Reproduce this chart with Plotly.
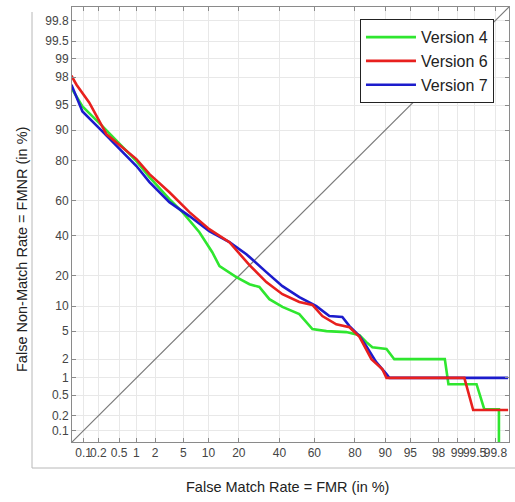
from statistics import NormalDist
import plotly.graph_objects as go

nd = NormalDist()
def probit(p):
    return [nd.inv_cdf(v / 100.0) for v in p]

tick_vals = [0.1, 0.2, 0.5, 1, 2, 5, 10, 20, 40, 60, 80, 90, 95, 98, 99, 99.5, 99.8]
tick_text = ["0.1", "0.2", "0.5", "1", "2", "5", "10", "20", "40", "60", "80", "90", "95", "98", "99", "99.5", "99.8"]

# Version 4 (green): FMR %, FNMR %
v4_fmr = [0.054, 0.094, 0.24, 1.0, 1.63, 3.23, 4.86, 7.88, 11.0, 13.1, 19.0, 24.6, 29.3, 34.5, 41.7,
          51.4, 58.9, 66.6, 76.3, 81.8, 84.3, 86.3, 90.3, 92.1, 98.4, 98.6, 99.54, 99.67, 99.83, 99.83]
v4_fnmr = [97.1, 94.8, 91.0, 79.7, 72.5, 60.9, 53.5, 41.9, 31.0, 24.2, 19.5, 16.8, 15.8, 11.9, 9.8,
           8.1, 5.3, 5.0, 4.85, 4.4, 3.55, 3.0, 2.83, 2.0, 2.0, 0.78, 0.78, 0.27, 0.27, 0.01]

# Version 6 (red)
v6_fmr = [0.054, 0.07, 0.13, 0.29, 1.0, 1.63, 3.23, 5.96, 10.2, 16.4, 24.6, 32.9, 41.7, 51.4, 58.9,
          64.4, 71.6, 77.7, 81.8, 84.3, 86.0, 89.2, 90.3, 99.24, 99.47, 99.89]
v6_fnmr = [98.1, 97.4, 95.4, 88.9, 80.5, 73.9, 64.7, 53.5, 43.6, 36.3, 24.7, 17.6, 13.4, 11.1, 10.3,
           7.7, 6.1, 5.6, 4.2, 2.8, 2.0, 1.4, 1.0, 1.0, 0.26, 0.26]

# Version 7 (blue)
v7_fmr = [0.054, 0.094, 0.24, 1.0, 1.63, 3.23, 5.96, 10.2, 16.4, 23.2, 32.9, 41.7, 51.4, 61.1, 68.1,
          74.5, 77.7, 81.8, 84.3, 87.5, 90.3, 91.0, 99.89]
v7_fnmr = [97.4, 94.0, 89.7, 77.6, 70.0, 59.2, 51.2, 42.5, 36.3, 30.0, 21.6, 16.1, 12.5, 10.0, 7.7,
           7.5, 5.8, 4.3, 3.1, 1.8, 1.16, 1.0, 1.0]

RANGE = [-3.26, 3.075]

fig = go.Figure()
# diagonal (FMR = FNMR)
fig.add_trace(go.Scatter(x=RANGE, y=RANGE, mode="lines", line=dict(color="#7a7a7a", width=1.2),
                         showlegend=False, hoverinfo="skip"))
fig.add_trace(go.Scatter(x=probit(v4_fmr), y=probit(v4_fnmr), mode="lines", name="Version 4",
                         line=dict(color="#2fe62f", width=2.6), legendrank=1))
fig.add_trace(go.Scatter(x=probit(v7_fmr), y=probit(v7_fnmr), mode="lines", name="Version 7",
                         line=dict(color="#1c1ccc", width=2.6), legendrank=3))
fig.add_trace(go.Scatter(x=probit(v6_fmr), y=probit(v6_fnmr), mode="lines", name="Version 6",
                         line=dict(color="#e8201e", width=2.6), legendrank=2))

axis_common = dict(
    tickmode="array", tickvals=probit(tick_vals), ticktext=tick_text,
    range=RANGE, showgrid=True, gridcolor="#e8e8e8", gridwidth=1,
    zeroline=False, showline=True, linecolor="#8a8a8a", linewidth=1,
    mirror="ticks", ticks="inside", ticklen=4, tickcolor="#8a8a8a",
    tickangle=0,
    tickfont=dict(family="Liberation Sans, Arial, sans-serif", size=12, color="#444444"),
)
fig.update_xaxes(**axis_common)
fig.update_yaxes(**axis_common)

fig.update_layout(
    width=515, height=502,
    margin=dict(l=72, r=6, t=7, b=60),
    paper_bgcolor="white", plot_bgcolor="white",
    font=dict(family="Liberation Sans, Arial, sans-serif", color="#222222"),
    legend=dict(x=0.659, y=0.972, xanchor="left", yanchor="top",
                bgcolor="white", bordercolor="#222222", borderwidth=1,
                font=dict(size=16, color="#222222"), tracegroupgap=0,
                itemwidth=50),
    annotations=[
        dict(text="False Match Rate = FMR (in %)", xref="paper", yref="paper",
             x=(287 - 72) / 437, y=(442 - 487) / 435, xanchor="center", yanchor="middle",
             showarrow=False, font=dict(size=14.5, color="#222222")),
        dict(text="False Non-Match Rate = FMNR (in %)", xref="paper", yref="paper",
             x=(22 - 72) / 437, y=(442 - 250) / 435, xanchor="center", yanchor="middle",
             textangle=-90, showarrow=False, font=dict(size=14.5, color="#222222")),
    ],
    shapes=[
        dict(type="line", xref="paper", yref="paper", x0=(32 - 72) / 437, x1=(32 - 72) / 437,
             y0=(442 - 468) / 435, y1=(442 - 12) / 435, line=dict(color="#b8b8b8", width=1)),
        dict(type="line", xref="paper", yref="paper", x0=(32 - 72) / 437, x1=(515 - 72) / 437,
             y0=(442 - 468) / 435, y1=(442 - 468) / 435, line=dict(color="#b8b8b8", width=1)),
    ],
)

fig.write_html("out.html")
